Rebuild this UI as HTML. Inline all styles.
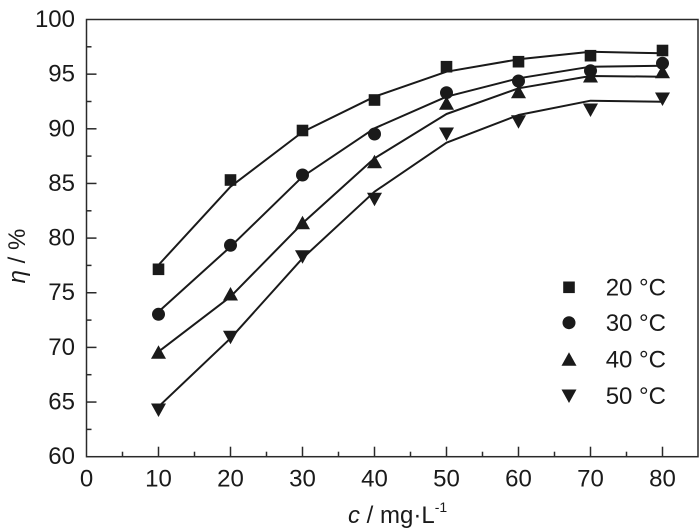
<!DOCTYPE html>
<html><head><meta charset="utf-8"><style>
html,body{margin:0;padding:0;background:#fff;}
svg{display:block;}
text{font-family:"Liberation Sans",Arial,sans-serif;fill:#1a1a1a;}
</style></head><body>
<svg width="700" height="530" viewBox="0 0 700 530" xmlns="http://www.w3.org/2000/svg">
<rect x="0" y="0" width="700" height="530" fill="#fff"/>
<!-- frame -->
<rect x="86.5" y="19.5" width="611.5" height="437.2" fill="none" stroke="#2a2a2a" stroke-width="1.5"/>
<!-- y ticks -->
<g stroke="#2a2a2a" stroke-width="1.5">
<line x1="86.5" y1="402.05" x2="96.5" y2="402.05"/>
<line x1="86.5" y1="347.4" x2="96.5" y2="347.4"/>
<line x1="86.5" y1="292.75" x2="96.5" y2="292.75"/>
<line x1="86.5" y1="238.1" x2="96.5" y2="238.1"/>
<line x1="86.5" y1="183.45" x2="96.5" y2="183.45"/>
<line x1="86.5" y1="128.8" x2="96.5" y2="128.8"/>
<line x1="86.5" y1="74.15" x2="96.5" y2="74.15"/>
<line x1="86.5" y1="429.4" x2="91.5" y2="429.4"/>
<line x1="86.5" y1="374.7" x2="91.5" y2="374.7"/>
<line x1="86.5" y1="320.1" x2="91.5" y2="320.1"/>
<line x1="86.5" y1="265.4" x2="91.5" y2="265.4"/>
<line x1="86.5" y1="210.8" x2="91.5" y2="210.8"/>
<line x1="86.5" y1="156.1" x2="91.5" y2="156.1"/>
<line x1="86.5" y1="101.5" x2="91.5" y2="101.5"/>
<line x1="86.5" y1="46.8" x2="91.5" y2="46.8"/>
<!-- x ticks -->
<line x1="158.5" y1="456.7" x2="158.5" y2="446.7"/>
<line x1="230.5" y1="456.7" x2="230.5" y2="446.7"/>
<line x1="302.5" y1="456.7" x2="302.5" y2="446.7"/>
<line x1="374.5" y1="456.7" x2="374.5" y2="446.7"/>
<line x1="446.5" y1="456.7" x2="446.5" y2="446.7"/>
<line x1="518.5" y1="456.7" x2="518.5" y2="446.7"/>
<line x1="590.5" y1="456.7" x2="590.5" y2="446.7"/>
<line x1="662.5" y1="456.7" x2="662.5" y2="446.7"/>
<line x1="122.5" y1="456.7" x2="122.5" y2="451.7"/>
<line x1="194.5" y1="456.7" x2="194.5" y2="451.7"/>
<line x1="266.5" y1="456.7" x2="266.5" y2="451.7"/>
<line x1="338.5" y1="456.7" x2="338.5" y2="451.7"/>
<line x1="410.5" y1="456.7" x2="410.5" y2="451.7"/>
<line x1="482.5" y1="456.7" x2="482.5" y2="451.7"/>
<line x1="554.5" y1="456.7" x2="554.5" y2="451.7"/>
<line x1="626.5" y1="456.7" x2="626.5" y2="451.7"/>
</g>
<!-- y labels -->
<g font-size="24" text-anchor="end">
<text x="75" y="464.2">60</text>
<text x="75" y="409.5">65</text>
<text x="75" y="354.9">70</text>
<text x="75" y="300.2">75</text>
<text x="75" y="245.6">80</text>
<text x="75" y="190.9">85</text>
<text x="75" y="136.3">90</text>
<text x="75" y="81.6">95</text>
<text x="75" y="27">100</text>
</g>
<!-- x labels -->
<g font-size="24" text-anchor="middle">
<text x="86.5" y="486.7">0</text>
<text x="158.5" y="486.7">10</text>
<text x="230.5" y="486.7">20</text>
<text x="302.5" y="486.7">30</text>
<text x="374.5" y="486.7">40</text>
<text x="446.5" y="486.7">50</text>
<text x="518.5" y="486.7">60</text>
<text x="590.5" y="486.7">70</text>
<text x="662.5" y="486.7">80</text>
</g>
<!-- axis titles -->
<text x="348" y="523" font-size="24"><tspan font-style="italic">c</tspan> / mg·L<tspan font-size="14" dy="-11">-1</tspan></text>
<text transform="translate(25,256) rotate(-90)" font-size="24" text-anchor="middle"><tspan font-style="italic">η</tspan> / %</text>
<!-- lines -->
<g fill="none" stroke="#1a1a1a" stroke-width="2" stroke-linejoin="round">
<polyline points="158.5,265 230.5,186.7 302.5,132 374.5,96.7 446.5,71.7 518.5,59.3 590.5,51.7 662.5,53.3"/>
<polyline points="158.5,311.7 230.5,246.7 302.5,176.7 374.5,128.3 446.5,96.7 518.5,78.3 590.5,66.7 662.5,65.7"/>
<polyline points="158.5,351.7 230.5,296.7 302.5,223.3 374.5,158.3 446.5,114 518.5,88.3 590.5,76 662.5,76.7"/>
<polyline points="158.5,406.7 230.5,338.3 302.5,258.3 374.5,191.7 446.5,142.7 518.5,115 590.5,100.7 662.5,101.7"/>
</g>
<defs>
<rect id="sq" x="-5.8" y="-5.8" width="11.6" height="11.6" fill="#1a1a1a"/>
<circle id="ci" r="6.5" fill="#1a1a1a"/>
<polygon id="tu" points="0,-7 7.5,6.5 -7.5,6.5" fill="#1a1a1a"/>
<polygon id="td" points="0,7 7.5,-6.5 -7.5,-6.5" fill="#1a1a1a"/>
</defs>
<!-- markers 20C -->
<use href="#sq" x="158.5" y="269.3"/>
<use href="#sq" x="230.5" y="180"/>
<use href="#sq" x="302.5" y="130.5"/>
<use href="#sq" x="374.5" y="100"/>
<use href="#sq" x="446.5" y="66.7"/>
<use href="#sq" x="518.5" y="61.7"/>
<use href="#sq" x="590.5" y="55.7"/>
<use href="#sq" x="662.5" y="50.5"/>
<!-- 30C -->
<use href="#ci" x="158.5" y="314.3"/>
<use href="#ci" x="230.5" y="245.3"/>
<use href="#ci" x="302.5" y="175"/>
<use href="#ci" x="374.5" y="134"/>
<use href="#ci" x="446.5" y="92.7"/>
<use href="#ci" x="518.5" y="81"/>
<use href="#ci" x="590.5" y="70.7"/>
<use href="#ci" x="662.5" y="63.3"/>
<!-- 40C -->
<use href="#tu" x="158.5" y="352.3"/>
<use href="#tu" x="230.5" y="294"/>
<use href="#tu" x="302.5" y="222.7"/>
<use href="#tu" x="374.5" y="161.7"/>
<use href="#tu" x="446.5" y="103.3"/>
<use href="#tu" x="518.5" y="91.7"/>
<use href="#tu" x="590.5" y="76"/>
<use href="#tu" x="662.5" y="71.7"/>
<!-- 50C -->
<use href="#td" x="158.5" y="410"/>
<use href="#td" x="230.5" y="337.3"/>
<use href="#td" x="302.5" y="256.7"/>
<use href="#td" x="374.5" y="199.3"/>
<use href="#td" x="446.5" y="134"/>
<use href="#td" x="518.5" y="121.7"/>
<use href="#td" x="590.5" y="110"/>
<use href="#td" x="662.5" y="99"/>
<!-- legend -->
<use href="#sq" x="569" y="287.3"/>
<use href="#ci" x="569" y="322.7"/>
<use href="#tu" x="569" y="359.3"/>
<use href="#td" x="569" y="396"/>
<g font-size="24">
<text x="605.7" y="295.5">20 °C</text>
<text x="605.7" y="331">30 °C</text>
<text x="605.7" y="367.5">40 °C</text>
<text x="605.7" y="404.2">50 °C</text>
</g>
</svg>
</body></html>
